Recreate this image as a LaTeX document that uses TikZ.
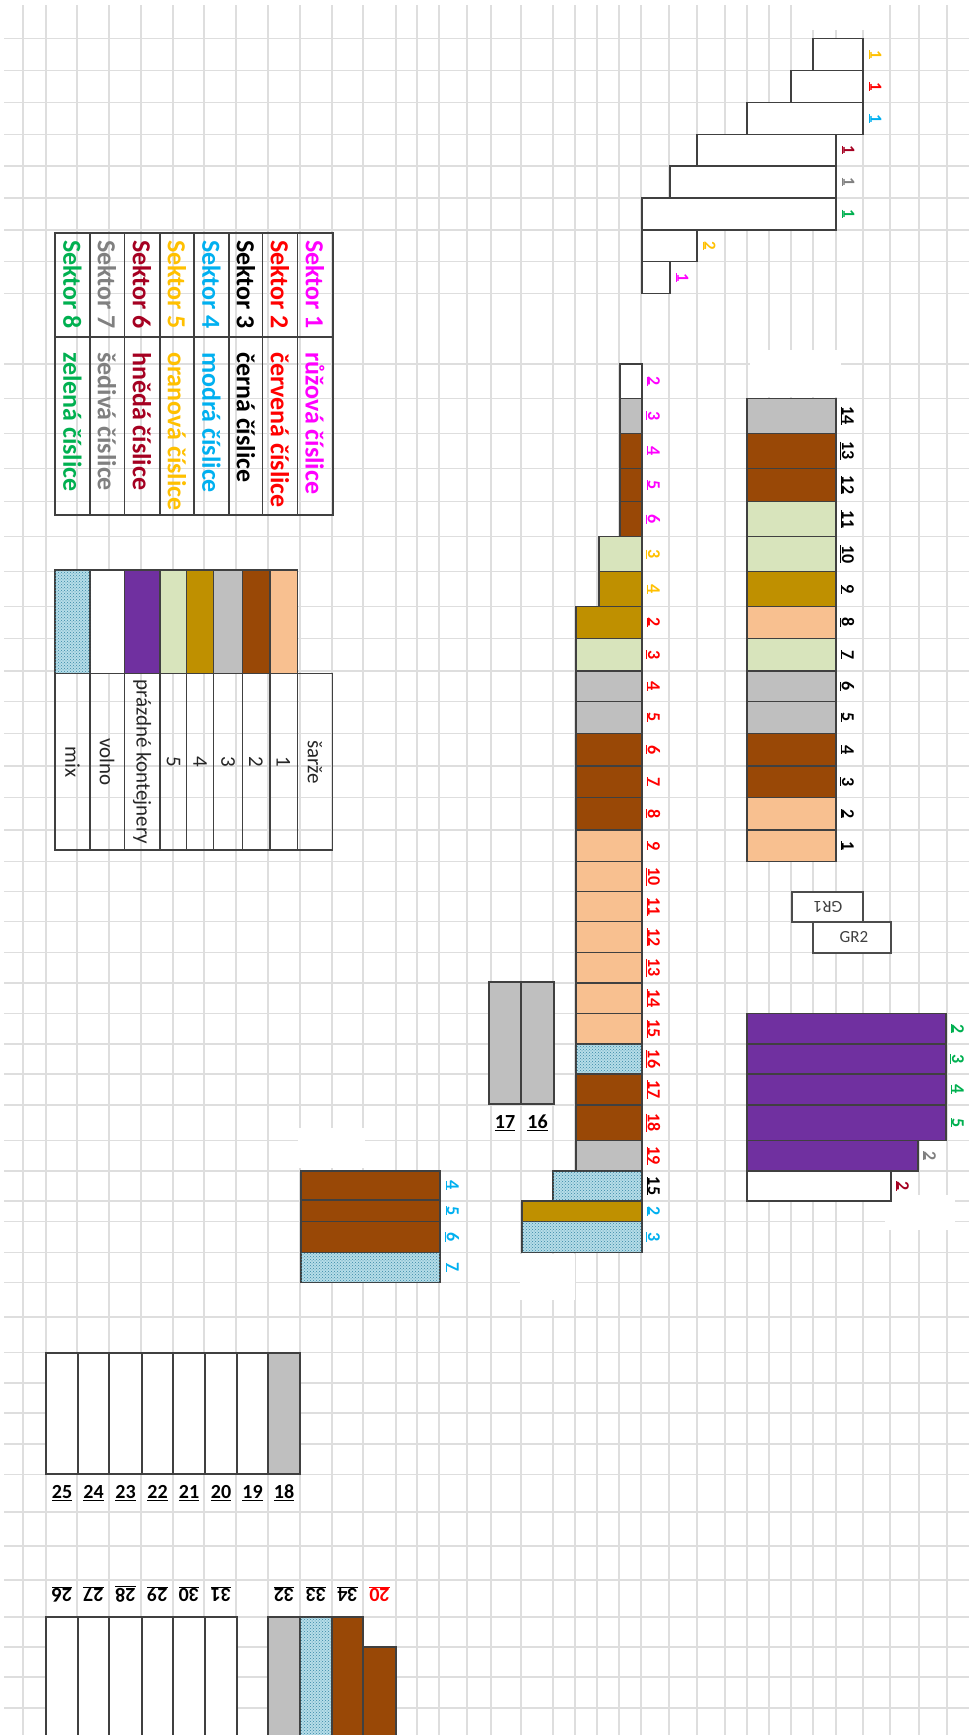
\documentclass[tikz,border=0pt]{standalone}
\usepackage{fontspec}
\setmainfont{Carlito}
\usetikzlibrary{patterns}

\definecolor{peach}{RGB}{248,192,144}
\definecolor{brownbox}{RGB}{153,72,6}
\definecolor{graybox}{RGB}{191,191,191}
\definecolor{goldbox}{RGB}{191,144,0}
\definecolor{greenbox}{RGB}{216,228,188}
\definecolor{purplebox}{RGB}{112,48,160}
\definecolor{mixbase}{RGB}{182,221,232}
\definecolor{mixdot}{RGB}{55,135,165}
\definecolor{sek1}{RGB}{255,0,255}
\definecolor{sek2}{RGB}{255,0,0}
\definecolor{sek3}{RGB}{0,0,0}
\definecolor{sek4}{RGB}{0,176,240}
\definecolor{sek5}{RGB}{255,192,0}
\definecolor{sek6}{RGB}{165,0,33}
\definecolor{sek7}{RGB}{128,128,128}
\definecolor{sek8}{RGB}{0,176,80}

\begin{document}
\begin{tikzpicture}[x=1pt, y=-1pt,
	gridline/.style={draw=black!13, line width=1.3pt},
	box/.style={draw=black!75, line width=1.3pt},
	sar1/.style={box, fill=peach},
	sar2/.style={box, fill=brownbox},
	sar3/.style={box, fill=graybox},
	sar4/.style={box, fill=goldbox},
	sar5/.style={box, fill=greenbox},
	empt/.style={box, fill=purplebox},
	free/.style={box, fill=white},
	mixbox/.style={box, fill=mixbase, postaction={pattern=crosshatch dots, pattern color=mixdot}},
	sektor/.style={font=\bfseries\fontsize{26}{28}\selectfont, rotate=-90, anchor=west, inner sep=0pt},
	legtext/.style={font=\fontsize{21}{23}\selectfont, text=black!85, rotate=-90, inner sep=0pt},
	num/.style={font=\bfseries\fontsize{18}{20}\selectfont, rotate=-90, inner sep=0pt},
	small/.style={font=\bfseries\fontsize{17}{19}\selectfont, rotate=-90, inner sep=0pt},
	numh/.style={font=\bfseries\fontsize{20}{22}\selectfont, inner sep=0pt},
	gr/.style={font=\fontsize{17}{19}\selectfont, text=black!75, inner sep=0pt}]
	\useasboundingbox (0,0) rectangle (969,1735);
	\fill[white] (0,0) rectangle (969,1735);

	% mrizka
	\foreach \gx in {23,46,77,109,141,173,204,236,268,300,332,363,396,417,439,467,491,521,553,575,597,619,641,669,697,725,747,769,791,813,836,863,890,919,947}
		\draw[gridline] (\gx,5) -- (\gx,1735);
	\foreach \gy in {38.5,70.5,102.5,134.3,166,198,230,261.7,293.3,364,398.3,433.3,468.3,501.7,536.7,571.7,606.7,638.3,671,701.7,733.3,766,797.7,830,861.7,891.7,921.7,952.7,983,1013.3,1044,1074,1105,1140.7,1171,1201,1221.7,1252.3,1282.7,1317,1352.7,1383,1413,1444,1474.3,1512,1546,1580,1617,1647,1677,1708}
		\draw[gridline] (4,\gy) -- (969,\gy);
	\fill[white] (800,0) rectangle (876,30);
	\fill[white] (750,350) rectangle (841,397);
	\fill[white] (298,1128) rectangle (365,1168);
	\fill[white] (520,1254) rectangle (575,1300);
	\fill[white] (885,1195) rectangle (955,1230);

	% legenda sektory
	\draw[box] (55,233) rectangle (333,515);
	\draw[box] (55,337) -- (333,337);
	\foreach \lx in {90,124.3,160,194,229,262.7,297.3}
		\draw[box] (\lx,233) -- (\lx,515);
	\foreach \cx/\k/\farba/\cl in {315/1/růžová/sek1, 280/2/červená/sek2, 246/3/černá/sek3, 211.5/4/modrá/sek4, 177/5/oranová/sek5, 142/6/hnědá/sek6, 107/7/šedivá/sek7, 72.5/8/zelená/sek8}{
		\node[sektor, text=\cl] (sek\k) at (\cx,240) {Sektor \k};
		\node[sektor, text=\cl] (cis\k) at (\cx,352) {\farba{} číslice};
	}

	% legenda sarze
	\foreach \xa/\xb/\st in {270/297.3/sar1, 242.3/270/sar2, 213.3/242.3/sar3, 186.7/213.3/sar4, 160/186.7/sar5, 124.3/160/empt, 90/124.3/free, 55/90/mixbox}
		\draw[\st] (\xa,570) rectangle (\xb,673.3);
	\draw[box] (55,673.3) rectangle (332.7,850);
	\foreach \lx in {90,124.3,160,186.7,213.3,242.3,270,297.3}
		\draw[box] (\lx,673.3) -- (\lx,850);
	\foreach \cx/\txt [count=\i] in {315/šarže, 283.5/1, 256/2, 228/3, 200/4, 173.5/5, 142/prázdné kontejnery, 107/volno, 72.5/mix}
		\node[legtext] (leg\i) at (\cx,762) {\txt};

	% schody nahore
	\foreach \ya/\yb/\xa/\xb/\n/\cl [count=\i] in {38.5/70.5/813/863/1/sek5, 70.5/102.5/791/863/1/sek2, 102.5/134.3/747/863/1/sek4, 134.3/166/697/836/1/sek6, 166/198/670/836/1/sek7, 198/230/642/836/1/sek8, 230/261.7/642/697/2/sek5, 261.7/293.3/642/670/1/sek1}{
		\draw[free] (\xa,\ya) rectangle (\xb,\yb);
		\node[small, text=\cl] (st\i) at ({\xb+12},{(\ya+\yb)/2}) {\underline{\n}};
	}

	% levy sloupec
	\foreach \ya/\yb/\xa/\st/\n/\cl [count=\i] in {364/398.3/620/free/2/sek1, 398.3/433.3/620/sar3/3/sek1, 433.3/468.3/620/sar2/4/sek1, 468.3/501.7/620/sar2/5/sek1, 501.7/536.7/620/sar2/6/sek1, 536.7/571.7/599/sar5/3/sek5, 571.7/606.7/599/sar4/4/sek5, 606.7/638.3/576/sar4/2/sek2, 638.3/671/576/sar5/3/sek2, 671/701.7/576/sar3/4/sek2, 701.7/733.3/576/sar3/5/sek2, 733.3/766/576/sar2/6/sek2, 766/797.7/576/sar2/7/sek2, 797.7/830/576/sar2/8/sek2, 830/861.7/576/sar1/9/sek2, 861.7/891.7/576/sar1/10/sek2, 891.7/921.7/576/sar1/11/sek2, 921.7/952.7/576/sar1/12/sek2, 952.7/983/576/sar1/13/sek2, 983/1013.3/576/sar1/14/sek2, 1013.3/1044/576/sar1/15/sek2, 1044/1074/576/mixbox/16/sek2, 1074/1105/576/sar2/17/sek2, 1105/1140.7/576/sar2/18/sek2, 1140.7/1171/576/sar3/19/sek2, 1171/1201/553/mixbox/15/sek3, 1201/1221.7/522/sar4/2/sek4, 1221.7/1252.3/522/mixbox/3/sek4}{
		\draw[\st] (\xa,\ya) rectangle (642,\yb);
		\node[num, text=\cl] (lc\i) at (653,{(\ya+\yb)/2}) {\underline{\n}};
	}

	% pravy sloupec
	\foreach \ya/\yb/\st/\n [count=\i] in {398.3/433.3/sar3/14, 433.3/468.3/sar2/13, 468.3/501.7/sar2/12, 501.7/536.7/sar5/11, 536.7/571.7/sar5/10, 571.7/606.7/sar4/9, 606.7/638.3/sar1/8, 638.3/671/sar5/7, 671/701.7/sar3/6, 701.7/733.3/sar3/5, 733.3/766/sar2/4, 766/797.7/sar2/3, 797.7/830/sar1/2, 830/861.7/sar1/1}{
		\draw[\st] (747,\ya) rectangle (836,\yb);
		\node[num, text=black] (rc\i) at (847,{(\ya+\yb)/2}) {\underline{\n}};
	}

	% GR
	\draw[free, draw=black!70] (792,892) rectangle (863,922);
	\node[gr, rotate=180] (gr1) at (828,907) {GR1};
	\draw[free, draw=black!70] (813,922) rectangle (891,953);
	\node[gr] (gr2) at (854,937) {GR2};

	% prazdne kontejnery
	\foreach \ya/\yb/\xb/\st/\n/\cl [count=\i] in {1013.3/1044/946/empt/2/sek8, 1044/1074/946/empt/3/sek8, 1074/1105/946/empt/4/sek8, 1105/1140.7/946/empt/5/sek8, 1140.7/1171/918/empt/2/sek7, 1171/1201/891/free/2/sek6}{
		\draw[\st] (747,\ya) rectangle (\xb,\yb);
		\node[num, text=\cl] (pk\i) at ({\xb+11},{(\ya+\yb)/2}) {\underline{\n}};
	}

	% skupina vlevo
	\foreach \ya/\yb/\st/\n [count=\i] in {1171/1200/sar2/4, 1200/1221.7/sar2/5, 1221.7/1252.3/sar2/6, 1252.3/1282.7/mixbox/7}{
		\draw[\st] (301,\ya) rectangle (440,\yb);
		\node[num, text=sek4] (sk\i) at (452,{(\ya+\yb)/2}) {\underline{\n}};
	}

	% 17 a 16
	\draw[sar3] (489,982) rectangle (521,1104);
	\draw[sar3] (521,982) rectangle (554,1104);
	\node[numh] (n17) at (505,1123) {\underline{17}};
	\node[numh] (n16) at (537.5,1123) {\underline{16}};

	% dole
	\foreach \xa/\xb/\st/\n [count=\i] in {46/78/free/25, 78/109/free/24, 109/142/free/23, 142/173/free/22, 173/205/free/21, 205/237/free/20, 237/268/free/19, 268/300/sar3/18}{
		\draw[\st] (\xa,1353) rectangle (\xb,1474);
		\node[numh] (dh\i) at ({(\xa+\xb)/2},1493) {\underline{\n}};
	}
	\foreach \xa/\xb/\st/\n [count=\i] in {46/78/free/26, 78/109/free/27, 109/142/free/28, 142/173/free/29, 173/205/free/30, 205/237/free/31, 268/300/sar3/32, 300/332/mixbox/33, 332/363/sar2/34}{
		\draw[\st] (\xa,1617) rectangle (\xb,1740);
		\node[numh, rotate=180] (dd\i) at ({(\xa+\xb)/2},1594) {\underline{\n}};
	}
	\draw[sar2] (363,1647) rectangle (396,1740);
	\node[numh, rotate=180, text=sek2] (d20) at (379.5,1594) {\underline{20}};
\end{tikzpicture}
\end{document}
